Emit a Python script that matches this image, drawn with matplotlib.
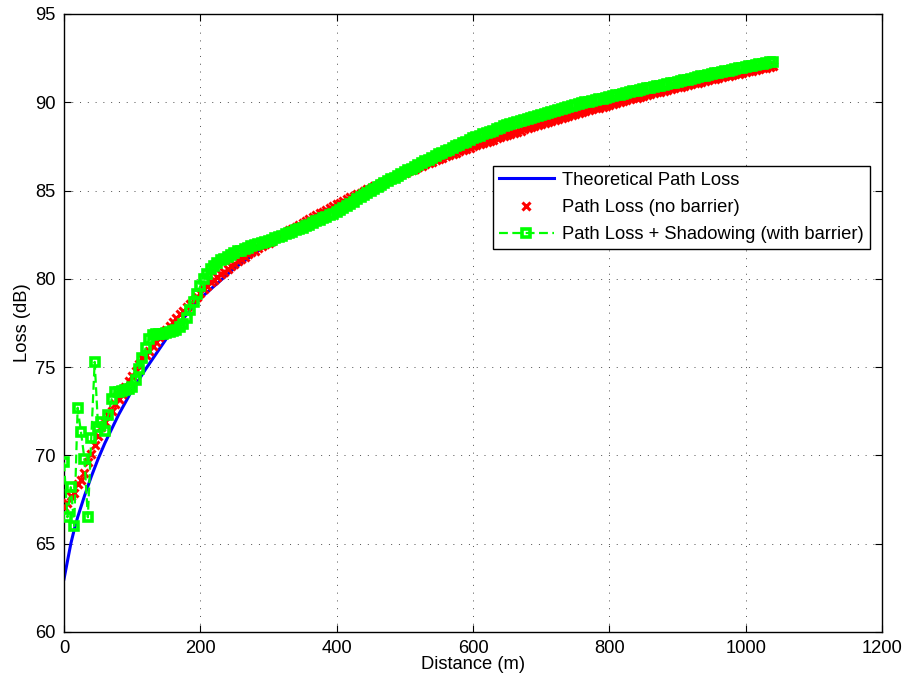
import numpy as np
import matplotlib
matplotlib.use("Agg")
import matplotlib.pyplot as plt

plt.rcParams['font.family'] = ['Liberation Sans', 'DejaVu Sans']
plt.rcParams['font.size'] = 13.2

# ---------------- data ----------------
theory_d = [0, 5, 10, 15, 20, 30, 40, 50, 60, 70, 80, 100, 120, 150, 200, 250,
            300, 350, 400, 450, 500, 600, 700, 800, 900, 1000, 1040]
theory_loss = [63.0, 64.0, 65.0, 65.8, 66.5, 67.7, 68.8, 69.8, 70.7, 71.5, 72.3,
               73.7, 74.9, 76.6, 78.9, 80.6, 82.0, 83.2, 84.2, 85.2, 86.0, 87.5,
               88.8, 89.9, 90.8, 91.7, 92.05]

# measurement distances (5 m spacing)
meas_d = np.arange(0, 1041, 5)

loss_nobarrier = [
    67.1, 67.3, 67.7, 67.9, 68.4, 68.6, 69.0, 69.6, 70.1, 70.6,
    71.1, 71.6, 71.9, 72.3, 72.5, 72.9, 73.2, 73.5, 73.9, 74.2,
    74.5, 74.8, 75.2, 75.5, 75.7, 75.9, 76.2, 76.4, 76.7, 76.9,
    77.1, 77.35, 77.55, 77.8, 78.0, 78.2, 78.4, 78.6, 78.8, 79.0,
    79.2, 79.4, 79.6, 79.8, 79.95, 80.1, 80.25, 80.4, 80.55, 80.7,
    80.85, 81.0, 81.1, 81.25, 81.4, 81.5, 81.6, 81.75, 81.85, 81.95,
    82.05, 82.15, 82.3, 82.4, 82.5, 82.6, 82.75, 82.85, 82.95, 83.05,
    83.18, 83.28, 83.39, 83.5, 83.6, 83.71, 83.81, 83.92, 84.02, 84.13,
    84.23, 84.32, 84.42, 84.51, 84.61, 84.7, 84.79, 84.89, 84.98, 85.08,
    85.17, 85.26, 85.34, 85.43, 85.51, 85.6, 85.68, 85.77, 85.85, 85.94,
    86.02, 86.1, 86.17, 86.25, 86.33, 86.41, 86.48, 86.56, 86.64, 86.71,
    86.79, 86.86, 86.93, 87.0, 87.08, 87.15, 87.22, 87.29, 87.36, 87.43,
    87.5, 87.57, 87.63, 87.7, 87.76, 87.83, 87.89, 87.96, 88.02, 88.09,
    88.15, 88.21, 88.27, 88.33, 88.39, 88.46, 88.52, 88.58, 88.64, 88.7,
    88.76, 88.82, 88.87, 88.93, 88.99, 89.05, 89.1, 89.16, 89.22, 89.27,
    89.33, 89.38, 89.44, 89.49, 89.54, 89.6, 89.65, 89.7, 89.75, 89.81,
    89.86, 89.91, 89.96, 90.01, 90.06, 90.11, 90.16, 90.22, 90.27, 90.32,
    90.37, 90.42, 90.46, 90.51, 90.56, 90.61, 90.65, 90.7, 90.75, 90.79,
    90.84, 90.89, 90.93, 90.98, 91.02, 91.07, 91.11, 91.16, 91.21, 91.25,
    91.3, 91.34, 91.38, 91.42, 91.47, 91.51, 91.55, 91.59, 91.63, 91.68,
    91.72, 91.76, 91.8, 91.84, 91.88, 91.93, 91.97, 92.01, 92.05]

loss_shadowing = [
    69.6, 66.5, 68.2, 66.0, 72.7, 71.3, 69.8, 66.5, 71.0, 75.3,
    71.6, 71.9, 71.4, 72.3, 73.2, 73.6, 73.6, 73.65, 73.7, 73.75,
    73.9, 74.3, 74.9, 75.5, 76.1, 76.6, 76.8, 76.85, 76.9, 76.9,
    76.95, 77.0, 77.05, 77.1, 77.25, 77.45, 77.8, 78.25, 78.7, 79.15,
    79.6, 80.0, 80.3, 80.55, 80.75, 80.9, 81.05, 81.15, 81.25, 81.35,
    81.45, 81.55, 81.6, 81.7, 81.75, 81.85, 81.9, 82.0, 82.05, 82.1,
    82.15, 82.22, 82.3, 82.37, 82.45, 82.52, 82.6, 82.67, 82.75, 82.82,
    82.9, 82.98, 83.07, 83.16, 83.25, 83.34, 83.43, 83.52, 83.61, 83.7,
    83.8, 83.91, 84.02, 84.14, 84.26, 84.38, 84.5, 84.62, 84.74, 84.87,
    85.0, 85.11, 85.22, 85.32, 85.43, 85.53, 85.64, 85.74, 85.85, 85.95,
    86.05, 86.15, 86.25, 86.35, 86.45, 86.55, 86.65, 86.75, 86.85, 86.95,
    87.05, 87.14, 87.23, 87.32, 87.41, 87.5, 87.59, 87.68, 87.77, 87.86,
    87.95, 88.03, 88.1, 88.18, 88.25, 88.33, 88.4, 88.48, 88.55, 88.63,
    88.7, 88.76, 88.82, 88.88, 88.94, 89.0, 89.06, 89.12, 89.18, 89.24,
    89.3, 89.36, 89.41, 89.47, 89.52, 89.58, 89.63, 89.69, 89.74, 89.8,
    89.85, 89.9, 89.94, 89.99, 90.03, 90.08, 90.12, 90.17, 90.21, 90.26,
    90.3, 90.35, 90.39, 90.44, 90.48, 90.53, 90.57, 90.62, 90.66, 90.71,
    90.75, 90.79, 90.83, 90.87, 90.91, 90.95, 90.99, 91.03, 91.07, 91.11,
    91.15, 91.2, 91.24, 91.29, 91.33, 91.38, 91.42, 91.47, 91.51, 91.56,
    91.6, 91.64, 91.68, 91.72, 91.76, 91.8, 91.84, 91.88, 91.92, 91.96,
    92.0, 92.04, 92.08, 92.11, 92.15, 92.19, 92.23, 92.26, 92.3]

x_ticks = [0, 200, 400, 600, 800, 1000, 1200]
y_ticks = [60, 65, 70, 75, 80, 85, 90, 95]

# ---------------- figure ----------------
fig = plt.figure(figsize=(9.05, 6.84), dpi=100)
ax = fig.add_axes([64/905, 1-632/684, 818/905, 618/684])

ax.plot(theory_d, theory_loss, color=(0, 0, 1), lw=2.2,
        label='Theoretical Path Loss', zorder=2)
ax.plot(meas_d, loss_nobarrier, linestyle='none', marker='x', color=(1, 0, 0),
        markersize=5.5, markeredgewidth=2.2, label='Path Loss (no barrier)', zorder=3)
ax.plot(meas_d, loss_shadowing, linestyle=(0, (4.0, 2.0)), lw=1.6, color=(0, 1, 0),
        marker='s', markersize=6.2, markeredgewidth=2.6, markerfacecolor='none',
        markeredgecolor=(0, 1, 0),
        label='Path Loss + Shadowing (with barrier)', zorder=4)

ax.set_xlim(0, 1200)
ax.set_ylim(60, 95)
ax.set_xticks(x_ticks)
ax.set_yticks(y_ticks)
ax.tick_params(direction='in', length=5, width=0.8, top=True, right=True,
               labelsize=13.2, pad=6)
ax.grid(True, color='0.3', linestyle=(0, (1, 7)), linewidth=0.7)
for s in ax.spines.values():
    s.set_linewidth(1.0)

ax.set_xlabel('Distance (m)', fontsize=13.2, labelpad=-1)
ax.set_ylabel('Loss (dB)', fontsize=13.2, labelpad=3)

leg = ax.legend(loc='upper right', bbox_to_anchor=(0.985, 0.754), fancybox=False,
                framealpha=1, edgecolor='k', fontsize=13.2, handlelength=3.0,
                handletextpad=0.45, labelspacing=0.55, borderpad=0.32,
                borderaxespad=0)
leg.get_frame().set_linewidth(1.0)

fig.savefig('out.png', dpi=100)
